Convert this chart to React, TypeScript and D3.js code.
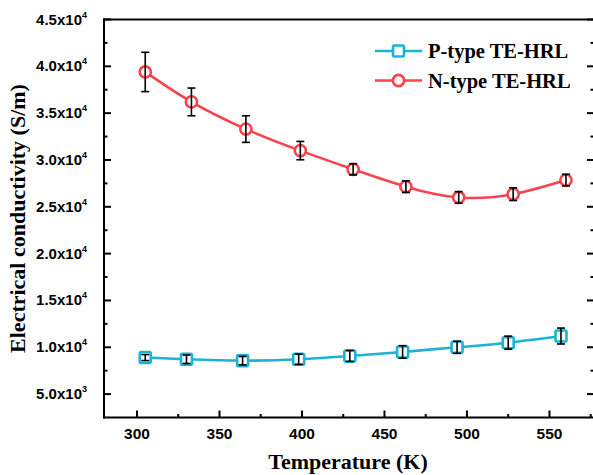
import React from 'react';
import * as d3 from 'd3';

const temperaturesP = [305, 330, 364, 398, 429, 461, 494, 525, 557];
const conductivityP = [8900, 8720, 8570, 8720, 9070, 9500, 10000, 10490, 11200];
const errorP = [320, 450, 450, 550, 590, 670, 650, 700, 850];

const temperaturesN = [305, 333, 366, 399, 431, 463, 495, 528, 560];
const conductivityN = [39400, 36200, 33300, 31000, 29000, 27150, 26000, 26350, 27850];
const errorN = [2100, 1480, 1420, 980, 600, 620, 620, 680, 620];

const xMajorTicks = [300, 350, 400, 450, 500, 550];
const xMinorTicks = [325, 375, 425, 475, 525, 575];
const yMajorTicks = [5000, 10000, 15000, 20000, 25000, 30000, 35000, 40000, 45000];
const yTickMantissa = ['5.0', '1.0', '1.5', '2.0', '2.5', '3.0', '3.5', '4.0', '4.5'];
const yTickExponent = ['3', '4', '4', '4', '4', '4', '4', '4', '4'];
const yMinorTicks = [7500, 12500, 17500, 22500, 27500, 32500, 37500, 42500];

const seriesNames = ['P-type TE-HRL', 'N-type TE-HRL'];
const CYAN = '#1cb2d6';
const RED = '#f8434f';

export default function App() {
  const width = 593;
  const height = 475;
  const left = 104;
  const right = 594;
  const top = 19.5;
  const bottom = 417.5;

  const x = d3.scaleLinear().domain([280, 577]).range([left, right]);
  const y = d3.scaleLinear().domain([2500, 45000]).range([bottom, top]);

  const line = d3
    .line<[number, number]>()
    .x((d) => x(d[0]))
    .y((d) => y(d[1]))
    .curve(d3.curveNatural);

  const pData: [number, number][] = temperaturesP.map((t, i) => [t, conductivityP[i]]);
  const nData: [number, number][] = temperaturesN.map((t, i) => [t, conductivityN[i]]);

  const tickFont = "'Liberation Sans', Arial, sans-serif";
  const serif = "'Liberation Serif', 'Times New Roman', serif";

  const errorBars = (ts: number[], vs: number[], es: number[], key: string) =>
    ts.map((t, i) => {
      const cx = x(t);
      const y1 = y(vs[i] + es[i]);
      const y2 = y(vs[i] - es[i]);
      return (
        <g key={key + i} stroke="#000" strokeWidth={1.6}>
          <line x1={cx} x2={cx} y1={y1} y2={y2} />
          <line x1={cx - 4} x2={cx + 4} y1={y1} y2={y1} />
          <line x1={cx - 4} x2={cx + 4} y1={y2} y2={y2} />
        </g>
      );
    });

  return (
    <svg width={width} height={height} style={{ position: 'absolute', left: 0, top: 0, background: '#fff' }}>
      <rect x={0} y={0} width={width} height={height} fill="#fff" />
      {/* series lines */}
      <path d={line(pData) || ''} fill="none" stroke={CYAN} strokeWidth={2.6} />
      <path d={line(nData) || ''} fill="none" stroke={RED} strokeWidth={2.6} />
      {/* markers */}
      {pData.map((d, i) => (
        <rect
          key={'pm' + i}
          x={x(d[0]) - 5.5}
          y={y(d[1]) - 5.5}
          width={11}
          height={11}
          rx={1.5}
          fill="#fff"
          stroke={CYAN}
          strokeWidth={2.6}
        />
      ))}
      {nData.map((d, i) => (
        <circle key={'nm' + i} cx={x(d[0])} cy={y(d[1])} r={5.6} fill="#fff" stroke={RED} strokeWidth={2.6} />
      ))}
      {/* error bars */}
      {errorBars(temperaturesP, conductivityP, errorP, 'pe')}
      {errorBars(temperaturesN, conductivityN, errorN, 'ne')}

      {/* axes frame */}
      <g stroke="#000" strokeWidth={2} fill="none">
        <line x1={left} x2={left} y1={top - 1} y2={bottom + 1} />
        <line x1={left - 1} x2={right + 1} y1={bottom} y2={bottom} />
        <line x1={left - 1} x2={right + 1} y1={top} y2={top} />
        <line x1={right} x2={right} y1={top - 1} y2={bottom + 1} />
      </g>
      {/* ticks */}
      <g stroke="#000" strokeWidth={2}>
        {xMajorTicks.map((t) => (
          <line key={'xM' + t} x1={x(t)} x2={x(t)} y1={bottom} y2={bottom - 7} />
        ))}
        {xMinorTicks.map((t) => (
          <line key={'xm' + t} x1={x(t)} x2={x(t)} y1={bottom} y2={bottom - 3.5} />
        ))}
        {yMajorTicks.map((t) => (
          <line key={'yM' + t} x1={left} x2={left + 7} y1={y(t)} y2={y(t)} />
        ))}
        {yMinorTicks.map((t) => (
          <line key={'ym' + t} x1={left} x2={left + 3.5} y1={y(t)} y2={y(t)} />
        ))}
        {yMajorTicks.map((t) => (
          <line key={'yRM' + t} x1={right} x2={right - 7} y1={y(t)} y2={y(t)} />
        ))}
        {yMinorTicks.map((t) => (
          <line key={'yRm' + t} x1={right} x2={right - 3.5} y1={y(t)} y2={y(t)} />
        ))}
      </g>
      {/* x tick labels */}
      {xMajorTicks.map((t) => (
        <text
          key={'xl' + t}
          x={x(t)}
          y={bottom + 21}
          textAnchor="middle"
          fontFamily={tickFont}
          fontWeight="bold"
          fontSize={15.5}
          fill="#000"
        >
          {t}
        </text>
      ))}
      {/* y tick labels */}
      {yMajorTicks.map((t, i) => (
        <text
          key={'yl' + t}
          x={left - 17}
          y={y(t) + 5}
          textAnchor="end"
          fontFamily={tickFont}
          fontWeight="bold"
          fontSize={15}
          fill="#000"
        >
          {yTickMantissa[i] + 'x10'}
          <tspan fontSize={9} dy={-7}>
            {yTickExponent[i]}
          </tspan>
        </text>
      ))}
      {/* axis titles */}
      <text
        x={348}
        y={469}
        textAnchor="middle"
        fontFamily={serif}
        fontWeight="bold"
        fontSize={22}
        fill="#000"
      >
        Temperature (K)
      </text>
      <text
        transform={`translate(25, ${(top + bottom) / 2}) rotate(-90)`}
        textAnchor="middle"
        fontFamily={serif}
        fontWeight="bold"
        fontSize={22}
        fill="#000"
      >
        Electrical conductivity (S/m)
      </text>
      {/* legend */}
      <g>
        <line x1={375} x2={422} y1={51} y2={51} stroke={CYAN} strokeWidth={2.6} />
        <rect x={398.5 - 5.5} y={51 - 5.5} width={11} height={11} rx={1.5} fill="#fff" stroke={CYAN} strokeWidth={2.6} />
        <text x={428} y={58} fontFamily={serif} fontWeight="bold" fontSize={20.5} fill="#000">
          {seriesNames[0]}
        </text>
        <line x1={375} x2={422} y1={80.5} y2={80.5} stroke={RED} strokeWidth={2.6} />
        <circle cx={398.5} cy={80.5} r={5.6} fill="#fff" stroke={RED} strokeWidth={2.6} />
        <text x={428} y={87.5} fontFamily={serif} fontWeight="bold" fontSize={20.5} fill="#000">
          {seriesNames[1]}
        </text>
      </g>
    </svg>
  );
}
